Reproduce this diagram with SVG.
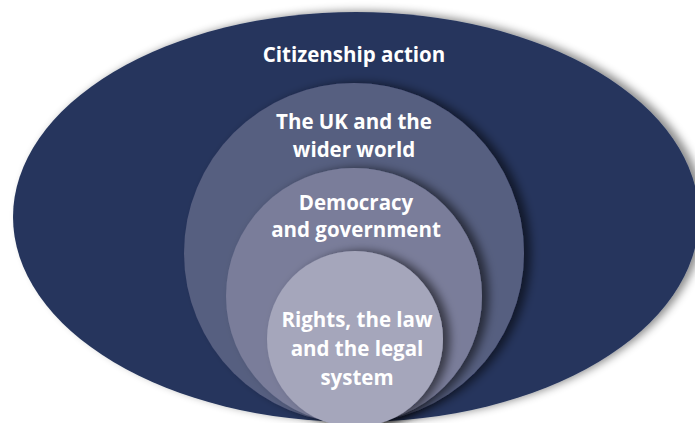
<svg xmlns="http://www.w3.org/2000/svg" width="695" height="423" viewBox="0 0 695 423">
  <defs>
    <filter id="outerShadow" x="-10%" y="-10%" width="125%" height="125%">
      <feDropShadow dx="6" dy="-1" stdDeviation="4" flood-color="#000" flood-opacity="0.45"/>
    </filter>
    <filter id="innerShadow" x="-20%" y="-20%" width="145%" height="140%">
      <feDropShadow dx="7" dy="0" stdDeviation="5" flood-color="#000" flood-opacity="0.55"/>
    </filter>
    <style>
      .lbl { font-family: "Open Sans", "Liberation Sans", sans-serif; font-weight: 700; font-size: 20.5px; fill: #ffffff; text-anchor: middle; }
    </style>
  </defs>
  <rect width="695" height="423" fill="#ffffff"/>
  <g id="citizenship-action">
    <ellipse cx="356" cy="217" rx="343" ry="205" fill="#26365d" filter="url(#outerShadow)"/>
    <text class="lbl" x="354" y="62">Citizenship action</text>
  </g>
  <g id="uk-wider-world">
    <circle cx="354" cy="253" r="170" fill="#575e80" filter="url(#innerShadow)"/>
    <text class="lbl" x="354" y="129">The UK and the</text>
    <text class="lbl" x="354" y="157">wider world</text>
  </g>
  <g id="democracy-government">
    <circle cx="354" cy="296" r="128" fill="#7a7d9a" filter="url(#innerShadow)"/>
    <text class="lbl" x="356" y="210">Democracy</text>
    <text class="lbl" x="356" y="237">and government</text>
  </g>
  <g id="rights-law">
    <circle cx="355" cy="339" r="88" fill="#a5a6bb" filter="url(#innerShadow)"/>
    <text class="lbl" x="357" y="327">Rights, the law</text>
    <text class="lbl" x="357" y="356">and the legal</text>
    <text class="lbl" x="357" y="385">system</text>
  </g>
  <g id="connectors"/>
</svg>
